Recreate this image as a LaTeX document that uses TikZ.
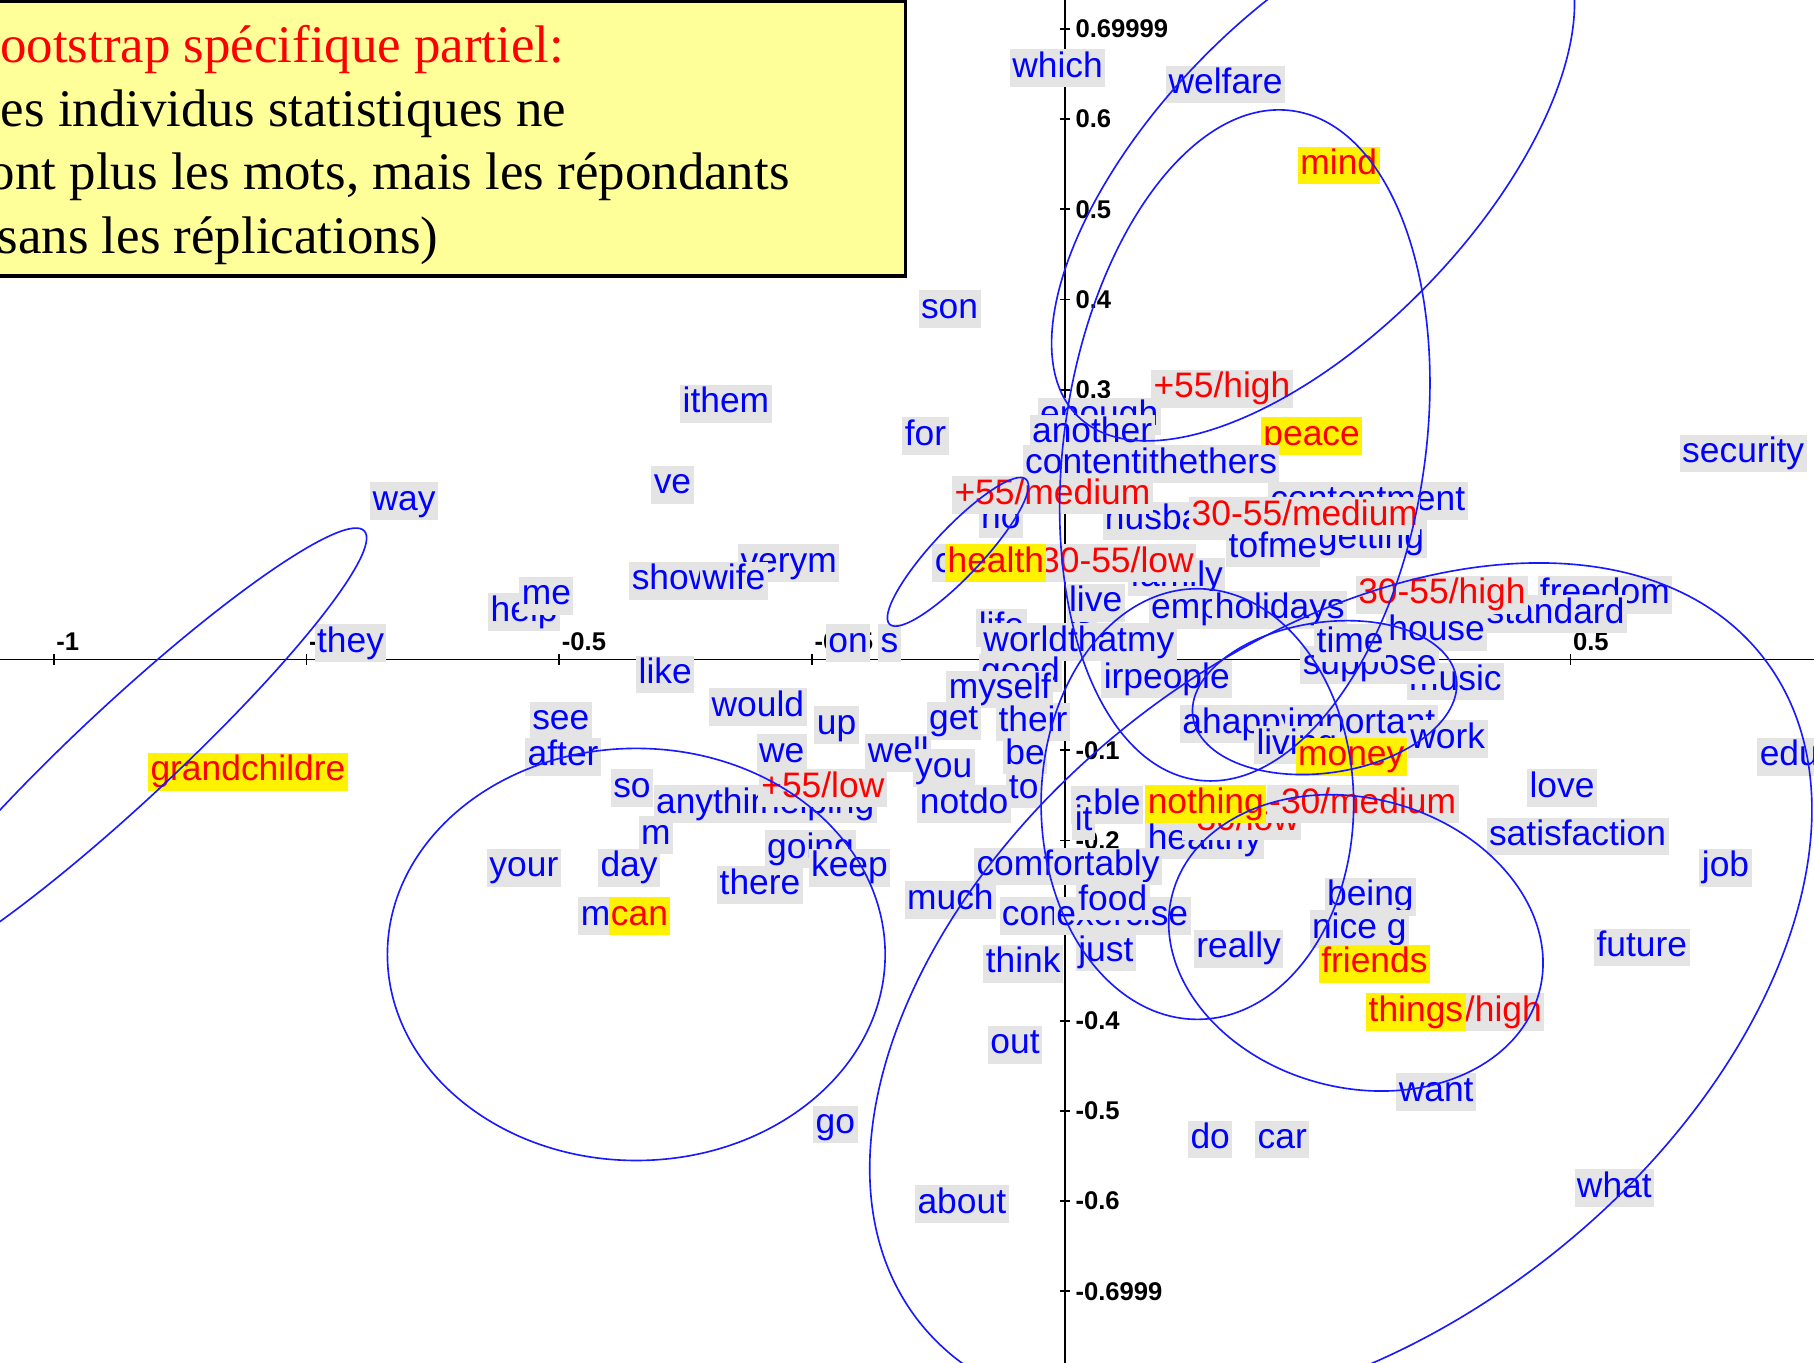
\documentclass[tikz,border=0pt]{standalone}
\usepackage{fontspec}
\setmainfont{Liberation Serif}
\setsansfont{Liberation Sans}
\definecolor{boxgray}{RGB}{228,228,228}
\definecolor{notepad}{RGB}{255,255,153}
\definecolor{curve}{RGB}{25,25,255}
\tikzset{
  word/.style={anchor=west, fill=boxgray, text=blue, font=\sffamily\fontsize{8.7}{10}\selectfont,
    inner xsep=0.6pt, inner ysep=0.5pt, text height=6.4pt, text depth=1.9pt, outer sep=0pt,
    yshift=-0.03cm},
  modal/.style={word, text=red},
  keyword/.style={word, text=red, fill=yellow},
  axisline/.style={black, line width=0.45pt},
  ticklab/.style={anchor=west, inner sep=0pt, font=\sffamily\bfseries\fontsize{6.3}{7}\selectfont},
  ring/.style={draw=curve, line width=0.4pt},
  titleline/.style={anchor=base west, inner sep=0pt, font=\fontsize{13}{15.5}\selectfont},
}
% a word label: [style]{name}{left x}{centre y}{text}
\newcommand{\wordat}[5][word]{\node[#1] (#2) at (#3,#4) {#5};}

\begin{document}
\begin{tikzpicture}[x=0.01cm, y=-0.01cm]
\useasboundingbox (0,0) rectangle (1568,1178);
\fill[white] (0,0) rectangle (1568,1178);
\clip (0,0) rectangle (1568,1178);

% axes, ticks and tick labels
\draw[axisline] (0,570) -- (1568,570);
\draw[axisline] (920.5,0) -- (920.5,1178);
\foreach \u [count=\i] in {-1,-0.75,-0.5,-0.25,0.25,0.5}{
  \draw[axisline] ({920.5+874*\u},565) -- ({920.5+874*\u},575);
  \node[ticklab] (xt\i) at ({922+874*\u},555) {\u};
}
\foreach \v [count=\i] in {0.69999,0.6,0.5,0.4,0.3,0.2,0.1,-0.1,-0.2,-0.3,-0.4,-0.5,-0.6,-0.6999}{
  \draw[axisline] (916,{570.6-779.4*\v}) -- (925,{570.6-779.4*\v});
  \node[ticklab] (yt\i) at (929,{570.6-779.4*\v}) {\v};
}

% word labels, upper part
\wordat{which}{873}{56}{which}
\wordat{welfare}{1008}{70}{welfare}
\wordat[keyword]{mind}{1122}{140}{mind}
\wordat{son}{794}{264}{son}
\wordat{ithem}{588}{346}{ithem}
\wordat{for}{780}{374}{for}
\wordat[modal]{ohigh}{995}{333}{+55/high}
\wordat[keyword]{peace}{1090}{374}{peace}
\wordat{security}{1452}{389}{security}
\wordat{way}{320}{430}{way}
\wordat{ve}{563}{416}{ve}
\wordat{enough}{897}{357}{enough}
\wordat{another}{890}{372}{another}
\wordat{content}{884}{398}{contentithethers}
\wordat{no}{846}{446}{no}
\wordat{husband}{953}{447}{husband}
\wordat{contentment}{1096}{430}{contentment}
\wordat{getting}{1137}{463}{getting}
\wordat[modal]{omedium}{823}{425}{+55/medium}
\wordat[modal]{mmedium}{1028}{443}{30-55/medium}
\wordat{tofme}{1060}{471}{tofme}
\wordat{family}{975}{496}{family}
\wordat{children}{806}{484}{children}
\wordat[modal]{mlow}{897}{484}{30-55/low}
\wordat[keyword]{health}{817}{484}{health}
\wordat{is}{922}{537}{is}
\wordat{live}{922}{518}{live}
\wordat{life}{844}{540}{life}
\wordat{world}{848}{552}{worldthatmy}
\wordat{employ}{993}{524}{employ}
\wordat{holidays}{1048}{524}{holidays}
\wordat{freedom}{1329}{511}{freedom}
\wordat{standard}{1283}{528}{standard}
\wordat[modal]{mhigh}{1172}{511}{30-55/high}
\wordat{house}{1198}{543}{house}
\wordat{music}{1216}{586}{music}
\wordat{suppose}{1124}{572}{suppose}
\wordat{time}{1136}{553}{time}

% word labels, centre
\wordat{good}{846}{579}{good}
\wordat{myself}{818}{593}{myself}
\wordat{irpeople}{952}{584}{irpeople}
\wordat{get}{801}{620}{get}
\wordat{their}{861}{621}{their}
\wordat{be}{867}{650}{be}
\wordat{well}{748}{648}{well}
\wordat{you}{789}{661}{you}
\wordat{to}{870}{679}{to}
\wordat{notdo}{793}{692}{notdo}
\wordat{ahappy}{1020}{623}{ahappy}
\wordat{important}{1111}{623}{important}
\wordat{living}{1084}{641}{living}
\wordat[keyword]{money}{1120}{651}{money}
\wordat{work}{1217}{636}{work}
\wordat{healthy}{990}{723}{healthy}
\wordat[modal]{ylow}{1022}{707}{-30/low}
\wordat{able}{926}{693}{able}
\wordat{it}{927}{707}{it}
\wordat[keyword]{nothing}{990}{692}{nothing}
\wordat[modal]{ymedium}{1095}{692}{-30/medium}
\wordat{love}{1320}{678}{love}
\wordat{education}{1519}{651}{education}
\wordat{satisfaction}{1285}{720}{satisfaction}
\wordat{job}{1469}{747}{job}
\wordat{comfortably}{842}{746}{comfortably}
\wordat{much}{782}{775}{much}
\wordat{comfort}{864}{789}{comfort}
\wordat{exercise}{911}{789}{exercise}
\wordat{food}{930}{776}{food}
\wordat{think}{850}{830}{think}
\wordat{just}{930}{820}{just}
\wordat{really}{1032}{817}{really}
\wordat{being}{1145}{772}{being}
\wordat{nice}{1132}{800}{nice g}
\wordat[keyword]{friends}{1140}{830}{friends}
\wordat[modal]{yhigh}{1220}{872}{-30/high}
\wordat[keyword]{things}{1181}{872}{things}
\wordat{future}{1378}{816}{future}
\wordat{want}{1207}{941}{want}
\wordat{out}{854}{900}{out}
\wordat{go}{703}{969}{go}
\wordat{about}{791}{1038}{about}
\wordat{do}{1027}{982}{do}
\wordat{car}{1085}{982}{car}
\wordat{what}{1361}{1024}{what}

% word labels, left part
\wordat{they}{272}{553}{they}
\wordat[keyword]{grandchildre}{128}{664}{grandchildre}
\wordat{help}{422}{526}{help}
\wordat{me}{449}{512}{me}
\wordat{verym}{638}{484}{verym}
\wordat{show}{544}{499}{show}
\wordat{wife}{605}{499}{wife}
\wordat{like}{550}{580}{like}
\wordat{would}{613}{608}{would}
\wordat{up}{704}{624}{up}
\wordat{see}{458}{620}{see}
\wordat{after}{454}{651}{after}
\wordat{we}{654}{648}{we}
\wordat{anything}{565}{692}{anything}
\wordat{helping}{655}{692}{helping}
\wordat[modal]{olow}{656}{678}{+55/low}
\wordat{so}{528}{678}{so}
\wordat{mm}{552}{719}{m}
\wordat{your}{421}{747}{your}
\wordat{day}{517}{747}{day}
\wordat{my}{500}{789}{my}
\wordat[keyword]{can}{526}{789}{can}
\wordat{going}{661}{731}{going}
\wordat{there}{620}{762}{there}
\wordat{keep}{699}{747}{keep}
\wordat{on}{714}{553}{on}
\wordat{s}{759}{553}{s}

% confidence ellipses
\draw[ring, rotate around={46:(1135,150)}] (1135,150) ellipse [x radius=2.92cm, y radius=1.38cm];
\draw[ring, rotate around={81.8:(1076,385)}] (1076,385) ellipse [x radius=2.92cm, y radius=1.56cm];
\draw[ring, rotate around={46.7:(828,477)}] (828,477) ellipse [x radius=0.86cm, y radius=0.21cm];
\draw[ring, rotate around={43:(110,650)}] (110,650) ellipse [x radius=2.8cm, y radius=0.42cm];
\draw[ring] (550,825) ellipse [x radius=2.15cm, y radius=1.78cm];
\draw[ring, rotate around={38.3:(1159,855)}] (1159,855) ellipse [x radius=4.64cm, y radius=2.93cm];
\draw[ring, rotate around={8.4:(1145,603)}] (1145,603) ellipse [x radius=1.15cm, y radius=0.65cm];
\draw[ring, rotate around={-15:(1172,815)}] (1172,815) ellipse [x radius=1.64cm, y radius=1.25cm];
\draw[ring] (1035,695) ellipse [x radius=1.35cm, y radius=1.86cm];

% note box
\draw[fill=notepad, line width=0.85pt] (-20,1.5) rectangle (782.5,238.5);
\node[titleline, text=red] (t1) at (-31,54) {Bootstrap spécifique partiel:};
\node[titleline] (t2) at (-28,109) {Les individus statistiques ne};
\node[titleline] (t3) at (-28,164) {sont plus les mots, mais les répondants};
\node[titleline] (t4) at (-18,219) {(sans les réplications)};
\end{tikzpicture}
\end{document}
